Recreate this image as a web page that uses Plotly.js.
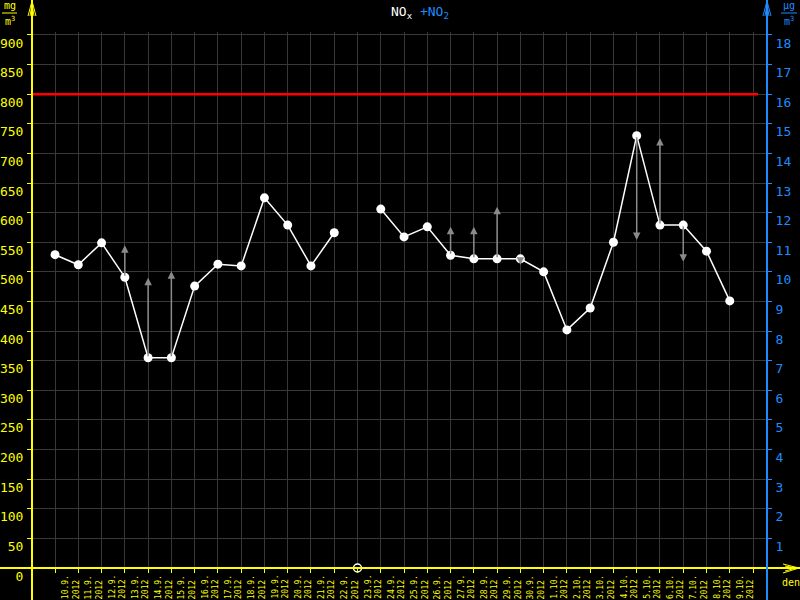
<!DOCTYPE html>
<html><head><meta charset="utf-8">
<script src="https://cdn.plot.ly/plotly-3.0.1.min.js"></script>
<style>html,body{margin:0;padding:0;background:#000;}#chart{width:800px;height:600px;}</style>
</head><body><div id="chart"></div>
<script>
// ---- data ----
const dayLabels = ["10.9.","11.9.","12.9.","13.9.","14.9.","15.9.","16.9.","17.9.","18.9.","19.9.",
  "20.9.","21.9.","22.9.","23.9.","24.9.","25.9.","26.9.","27.9.","28.9.","29.9.","30.9.",
  "1.10.","2.10.","3.10.","4.10.","5.10.","6.10.","7.10.","8.10.","9.10."];
const yearLabel = "2012";
const noxValues = [529,512,549,491,355,355,476,513,510,625,579,510,566,null,606,559,576,528,522,522,522,500,402,439,550,730,579,579,535,451];
const arrowDays = [3,4,5,17,18,19,20,25,26,27];
const arrowTips = [545,490,501,576,576,610,512,554,726,517];
const missingDays = [13];
const limitValue = 800;
const leftTicks = [0,50,100,150,200,250,300,350,400,450,500,550,600,650,700,750,800,850,900];
const rightTicks = [1,2,3,4,5,6,7,8,9,10,11,12,13,14,15,16,17,18];

// ---- geometry helpers (pixel -> paper) ----
const L = 32, R = 767, T = 32, B = 568;
const px = x => (x - L) / (R - L);
const py = y => (B - y) / (B - T);
const YEL = '#ffff00', BLU = '#1e8cff', GRID = '#383838';
const MONO = 'DejaVu Sans Mono, monospace';

const xs = dayLabels.map((_, i) => i);

const traces = [
  {x: xs, y: noxValues, type: 'scatter', mode: 'lines+markers', connectgaps: false,
   line: {color: '#ffffff', width: 1.5},
   marker: {color: '#ffffff', size: 9}, hoverinfo: 'skip', showlegend: false},
  {x: missingDays, y: missingDays.map(() => 0), type: 'scatter', mode: 'markers', cliponaxis: false,
   marker: {color: '#000000', size: 8, line: {color: '#ffffff', width: 1.5}}, hoverinfo: 'skip', showlegend: false},
  {x: [0], y: [0], yaxis: 'y2', type: 'scatter', mode: 'markers', marker: {opacity: 0}, hoverinfo: 'skip', showlegend: false}
];

const annotations = [];
// arrows
arrowDays.forEach((d, k) => {
  annotations.push({x: d, y: arrowTips[k], ax: d, ay: noxValues[d], xref: 'x', yref: 'y', axref: 'x', ayref: 'y',
    text: '', showarrow: true, arrowcolor: '#8a8a8a', arrowwidth: 1.5, arrowhead: 2, arrowsize: 1, standoff: 0, startstandoff: 0});
});
// x tick labels
dayLabels.forEach((lab, i) => {
  annotations.push({x: i + 0.65, y: py(573), xref: 'x', yref: 'paper', text: lab + '<br>' + yearLabel,
    textangle: -90, showarrow: false, xanchor: 'center', yanchor: 'top', align: 'left',
    font: {family: MONO, size: 8, color: YEL}});
});
// title
annotations.push({x: px(389), y: py(2), xref: 'paper', yref: 'paper', xanchor: 'left', yanchor: 'top', showarrow: false,
  text: "NO<sub>x</sub> <span style='color:" + BLU + "'>+NO<sub>2</sub></span>",
  font: {family: MONO, size: 13, color: '#ffffff'}});
// units
annotations.push({x: px(10), y: py(13), xref: 'paper', yref: 'paper', xanchor: 'center', yanchor: 'bottom', showarrow: false,
  text: 'mg', font: {family: MONO, size: 10, color: YEL}});
annotations.push({x: px(10), y: py(13), xref: 'paper', yref: 'paper', xanchor: 'center', yanchor: 'top', showarrow: false,
  text: 'm<sup>3</sup>', font: {family: MONO, size: 10, color: YEL}});
annotations.push({x: px(789), y: py(13), xref: 'paper', yref: 'paper', xanchor: 'center', yanchor: 'bottom', showarrow: false,
  text: 'µg', font: {family: MONO, size: 10, color: BLU}});
annotations.push({x: px(789), y: py(13), xref: 'paper', yref: 'paper', xanchor: 'center', yanchor: 'top', showarrow: false,
  text: 'm<sup>3</sup>', font: {family: MONO, size: 10, color: BLU}});
annotations.push({x: px(791), y: py(575), xref: 'paper', yref: 'paper', xanchor: 'center', yanchor: 'top', showarrow: false,
  text: 'den', font: {family: MONO, size: 10, color: YEL}});

const shapes = [
  // limit line
  {type: 'line', xref: 'paper', yref: 'y', x0: 0, x1: px(758), y0: limitValue, y1: limitValue, line: {color: '#ff0000', width: 2.5}},
  // axes lines
  {type: 'line', xref: 'paper', yref: 'paper', x0: px(0), x1: px(800), y0: 0, y1: 0, line: {color: YEL, width: 2}},
  {type: 'line', xref: 'paper', yref: 'paper', x0: 0, x1: 0, y0: py(0), y1: py(600), line: {color: YEL, width: 2}},
  {type: 'line', xref: 'paper', yref: 'paper', x0: 1, x1: 1, y0: py(0), y1: py(600), line: {color: BLU, width: 2}},
  // unit fraction bars
  {type: 'line', xref: 'paper', yref: 'paper', x0: px(2), x1: px(17), y0: py(13), y1: py(13), line: {color: YEL, width: 1}},
  {type: 'line', xref: 'paper', yref: 'paper', x0: px(781), x1: px(797), y0: py(13), y1: py(13), line: {color: BLU, width: 1}},
  // arrow heads of axes
  {type: 'path', xref: 'paper', yref: 'paper', path:
    `M ${px(28)} ${py(16)} L ${px(32)} ${py(1)} L ${px(36)} ${py(16)} M ${px(30)} ${py(16)} L ${px(32)} ${py(4)} L ${px(34)} ${py(16)}`,
    line: {color: YEL, width: 1}},
  {type: 'path', xref: 'paper', yref: 'paper', path:
    `M ${px(763)} ${py(16)} L ${px(767)} ${py(1)} L ${px(771)} ${py(16)} M ${px(765)} ${py(16)} L ${px(767)} ${py(4)} L ${px(769)} ${py(16)}`,
    line: {color: BLU, width: 1}},
  {type: 'path', xref: 'paper', yref: 'paper', path:
    `M ${px(783)} ${py(564)} L ${px(799)} ${py(568)} L ${px(783)} ${py(573)} M ${px(785)} ${py(566)} L ${px(796)} ${py(568)} L ${px(785)} ${py(571)}`,
    line: {color: YEL, width: 1}}
];

const layout = {
  width: 800, height: 600,
  margin: {l: L, r: 800 - R, t: T, b: 600 - B, pad: 0},
  paper_bgcolor: '#000000', plot_bgcolor: '#000000',
  showlegend: false,
  xaxis: {range: [-0.99, 30.6], tickmode: 'array', tickvals: dayLabels.concat(['']).map((_, i) => i),
    showticklabels: false, ticks: 'outside', ticklen: 4, tickcolor: YEL, tickwidth: 1,
    showgrid: true, gridcolor: GRID, gridwidth: 1, zeroline: false, showline: false, fixedrange: true},
  yaxis: {range: [0, 905], tickmode: 'array', tickvals: leftTicks, ticks: 'outside', ticklen: 4, tickcolor: YEL,
    tickfont: {family: MONO, size: 13, color: YEL}, ticklabelshift: 8, ticklabelstandoff: 1,
    showgrid: true, gridcolor: GRID, gridwidth: 1, zeroline: false, showline: false, fixedrange: true},
  yaxis2: {range: [0, 18.1], overlaying: 'y', side: 'right', tickmode: 'array', tickvals: rightTicks,
    ticks: 'outside', ticklen: 4, tickcolor: BLU, tickfont: {family: MONO, size: 13, color: BLU},
    ticklabelshift: 8, ticklabelstandoff: 1, showgrid: false, zeroline: false, showline: false, fixedrange: true},
  annotations: annotations,
  shapes: shapes
};

Plotly.newPlot('chart', traces, layout, {staticPlot: true, displayModeBar: false});
</script>
</body></html>
